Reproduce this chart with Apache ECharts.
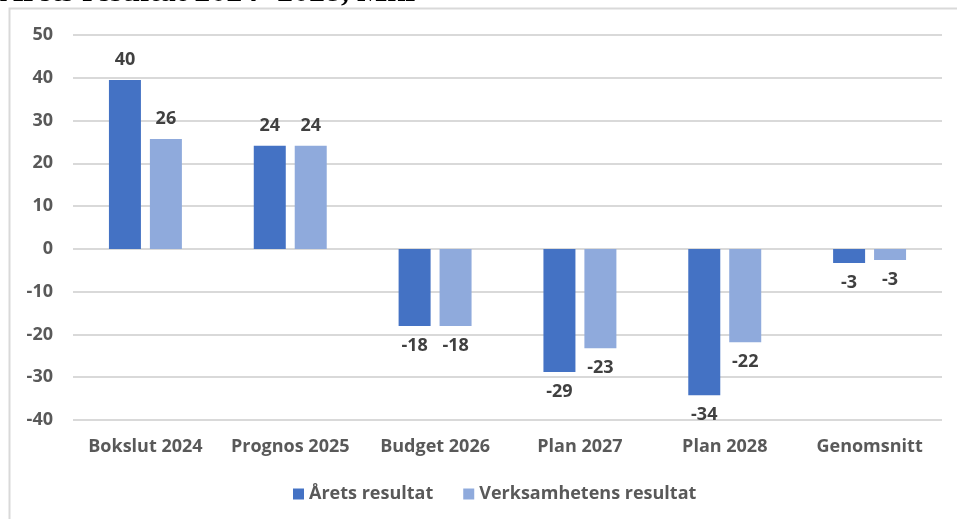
<!DOCTYPE html>
<html>
<head>
<meta charset="utf-8">
<script src="https://cdn.jsdelivr.net/npm/echarts@6/dist/echarts.min.js"></script>
<style>
  html, body { margin: 0; padding: 0; background: #fff; }
  #chart { width: 957px; height: 519px; }
</style>
</head>
<body>
<div id="chart"></div>
<script>
// kategorier och värden (Mkr)
const categories = ['Bokslut 2024', 'Prognos 2025', 'Budget 2026', 'Plan 2027', 'Plan 2028', 'Genomsnitt']
const aretsResultat = [39.5, 24.1, -18.0, -28.8, -34.2, -3.3]
const verksamhetensResultat = [25.7, 24.1, -18.0, -23.2, -21.8, -2.6]
const yTicks = [-40, -30, -20, -10, 0, 10, 20, 30, 40, 50]

const font = 'Open Sans'

const labelStyle = {
  show: true,
  position: 'outside',
  distance: 11,
  color: '#404040',
  fontFamily: font,
  fontWeight: 'bold',
  fontSize: 18,
  formatter: p => Math.round(p.value)
}

const myChart = echarts.init(document.getElementById('chart'), null, { renderer: 'canvas' })
const option = {
  animation: false,
  backgroundColor: '#fff',
  textStyle: { fontFamily: font },
  graphic: [
    {
      type: 'rect',
      shape: { x: 9.5, y: 8.5, width: 1000, height: 600 },
      style: { fill: 'none', stroke: '#d9d9d9', lineWidth: 2 },
      silent: true
    },
    {
      type: 'text',
      left: 0,
      top: -23,
      style: {
        text: 'Årets resultat 2024- 2028, Mkr',
        font: 'bold 32px "Liberation Serif"',
        fill: '#000'
      }
    }
  ],
  legend: {
    bottom: 11,
    left: 288,
    itemWidth: 11,
    itemHeight: 11,
    itemGap: 30,
    icon: 'rect',
    textStyle: { color: '#595959', fontSize: 18, fontWeight: 'bold', fontFamily: font },
    data: ['Årets resultat', 'Verksamhetens resultat']
  },
  grid: {
    left: 73,
    right: 15,
    top: 35,
    bottom: 99,
    containLabel: false
  },
  xAxis: {
    type: 'category',
    data: categories,
    axisLine: { show: false },
    axisTick: { show: false },
    axisLabel: {
      interval: 0,
      color: '#595959',
      fontSize: 18,
      fontWeight: 'bold',
      fontFamily: font,
      margin: 18
    }
  },
  yAxis: {
    type: 'value',
    min: yTicks[0],
    max: yTicks[yTicks.length - 1],
    interval: 10,
    axisLine: { show: false },
    axisTick: { show: false },
    axisLabel: {
      color: '#595959',
      fontSize: 18,
      fontWeight: 'bold',
      fontFamily: font,
      margin: 20
    },
    splitLine: { lineStyle: { color: '#d9d9d9', width: 2 } }
  },
  series: [
    {
      name: 'Årets resultat',
      type: 'bar',
      data: aretsResultat,
      barWidth: 32,
      barGap: '28%',
      itemStyle: { color: '#4472c4' },
      label: labelStyle
    },
    {
      name: 'Verksamhetens resultat',
      type: 'bar',
      data: verksamhetensResultat,
      barWidth: 32,
      itemStyle: { color: '#8faadc' },
      label: labelStyle
    }
  ]
}
myChart.setOption(option, true)
window.addEventListener('resize', function () {
  myChart.resize()
})
</script>
</body>
</html>
